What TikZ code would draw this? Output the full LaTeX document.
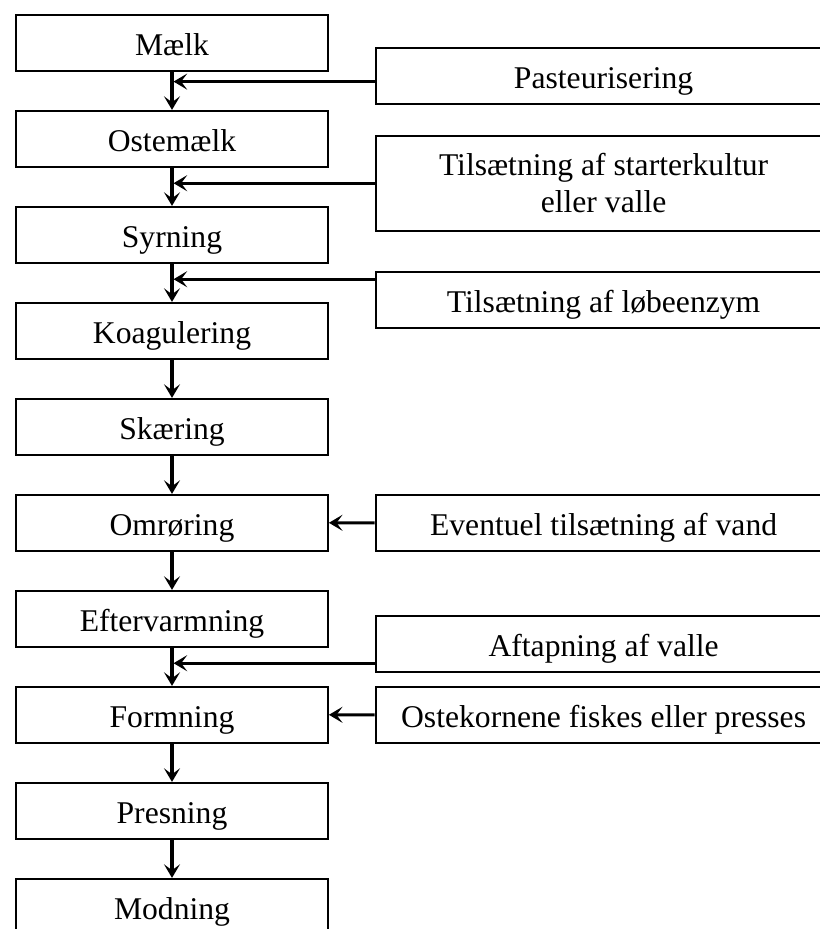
\documentclass[tikz,border=0pt]{standalone}
\usepackage{fontspec}
\setmainfont{Liberation Serif}
\usetikzlibrary{arrows.meta,positioning}

\tikzstyle{box} = [rectangle, draw=black, line width=1.3pt, align=center, font=\fontsize{22.5}{26}\selectfont]
\tikzstyle{stage} = [box, minimum width=7.8cm, minimum height=1.4cm, text height=19pt, text depth=1pt]
\tikzstyle{additive} = [box, minimum width=11.4cm, minimum height=1.4cm, text height=19pt, text depth=1pt]
\tikzstyle{additive2} = [box, minimum width=11.4cm, minimum height=2.38cm]
\tikzstyle{flow} = [-{Stealth[length=3.4mm, width=4mm, inset=1.5mm]}, line width=2.2pt]

\begin{document}
\begin{tikzpicture}[node distance=2.4cm]
    \path[use as bounding box, clip] (0,0) rectangle (20.5,-23.225);
	\node (Maelk) at (4.3,-1.07) [stage] {Mælk};
	\node (Ostemaelk) [stage, below of=Maelk] {Ostemælk};
	\node (Syrning) [stage, below of=Ostemaelk] {Syrning};
	\node (Koagulering) [stage, below of=Syrning] {Koagulering};
	\node (Skaering) [stage, below of=Koagulering] {Skæring};
	\node (Omroering) [stage, below of=Skaering] {Omrøring};
	\node (Eftervarmning) [stage, below of=Omroering] {Eftervarmning};
	\node (Formning) [stage, below of=Eftervarmning] {Formning};
	\node (Presning) [stage, below of=Formning] {Presning};
	\node (Modning) [stage, below of=Presning] {Modning};
	% tilsaetninger til hoejre
	\node (Pasteurisering) at (15.09,-1.89) [additive] {Pasteurisering};
	\node (Starterkultur) at (15.09,-4.58) [additive2] {Tilsætning af starterkultur\\eller valle};
	\node (Loebeenzym) at (15.09,-7.49) [additive] {Tilsætning af løbeenzym};
	\node (Vand) at (15.09,-13.07) [additive] {Eventuel tilsætning af vand};
	\node (Valle) at (15.09,-16.09) [additive] {Aftapning af valle};
	\node (Fiskes) at (15.09,-17.87) [additive] {Ostekornene fiskes eller presses};
	\coordinate (J1) at (4.3,-2.04);
	\coordinate (J2) at (4.3,-4.58);
	\coordinate (J3) at (4.3,-6.98);
	\coordinate (J4) at (4.3,-16.58);
	\draw [flow] (Maelk) edge (Ostemaelk);
	\draw [flow] (Ostemaelk) edge (Syrning);
	\draw [flow] (Syrning) edge (Koagulering);
	\draw [flow] (Koagulering) edge (Skaering);
	\draw [flow] (Skaering) edge (Omroering);
	\draw [flow] (Omroering) edge (Eftervarmning);
	\draw [flow] (Eftervarmning) edge (Formning);
	\draw [flow] (Formning) edge (Presning);
	\draw [flow] (Presning) edge (Modning);
	\draw [flow] (Pasteurisering.west |- J1) -- ([xshift=1.1pt]J1);
	\draw [flow] (Starterkultur.west |- J2) -- ([xshift=1.1pt]J2);
	\draw [flow] (Loebeenzym.west |- J3) -- ([xshift=1.1pt]J3);
	\draw [flow] (Valle.west |- J4) -- ([xshift=1.1pt]J4);
	\draw [flow] (Vand) edge (Omroering);
	\draw [flow] (Fiskes) edge (Formning);
\end{tikzpicture}
\end{document}
